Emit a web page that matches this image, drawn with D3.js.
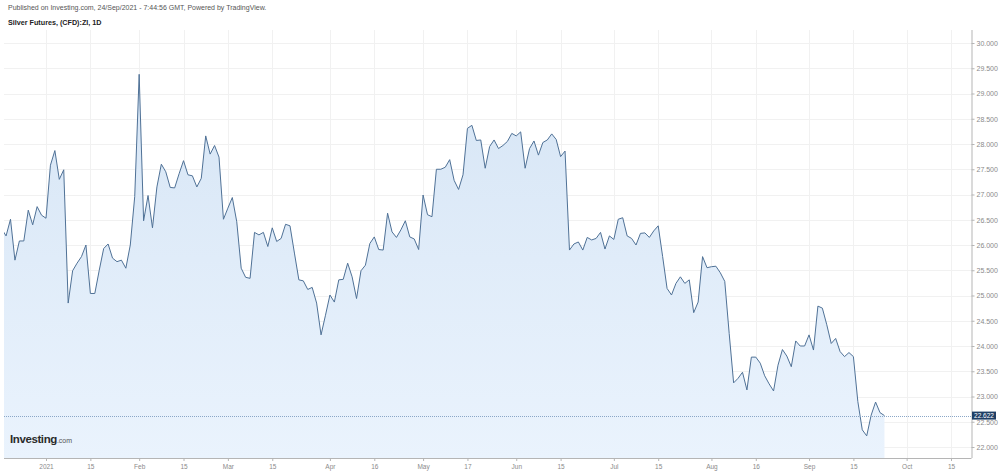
<!DOCTYPE html>
<html>
<head>
<meta charset="utf-8">
<script src="https://cdn.jsdelivr.net/npm/d3@7"></script>
<style>
  html, body { margin: 0; padding: 0; background: #ffffff; }
  svg { display: block; font-family: Arial, "Liberation Sans", sans-serif; }
</style>
</head>
<body>
<svg id="chart" width="1000" height="475"></svg>
<script>
// ---- Data (trading-day index relative to 1 Jan 2021 = 0) ----
const firstDayIndex = -10;
const closeValues = [
  26.32, 26.18, 26.51, 25.70, 26.08, 26.08, 26.69, 26.40, 26.76, 26.59,
  26.53, 27.58, 27.87, 27.30, 27.49, 24.85, 25.49, 25.64, 25.77, 26.00,
  25.04, 25.04, 25.50, 25.93, 26.02, 25.74, 25.67, 25.70, 25.54, 26.00,
  26.96, 29.38, 26.48, 26.98, 26.34, 27.15, 27.60, 27.45, 27.14, 27.13,
  27.41, 27.67, 27.39, 27.37, 27.15, 27.32, 28.16, 27.80, 27.97, 27.74,
  26.51, 26.73, 26.94, 26.46, 25.54, 25.36, 25.34, 26.25, 26.20, 26.25,
  25.97, 26.34, 26.07, 26.13, 26.41, 26.38, 25.84, 25.31, 25.29, 25.12,
  25.16, 24.85, 24.22, 24.61, 25.01, 24.87, 25.31, 25.32, 25.64, 25.37,
  24.94, 25.49, 25.60, 26.03, 26.16, 25.91, 25.90, 26.63, 26.26, 26.15,
  26.30, 26.48, 26.16, 26.12, 25.91, 26.99, 26.60, 26.56, 27.50, 27.50,
  27.54, 27.69, 27.28, 27.10, 27.39, 28.31, 28.37, 28.07, 28.08, 27.52,
  27.95, 28.08, 27.91, 27.97, 28.05, 28.21, 28.16, 28.24, 27.52, 27.91,
  28.06, 27.78, 28.03, 28.08, 28.20, 28.09, 27.75, 27.86, 25.90, 26.02,
  26.06, 25.90, 26.15, 26.10, 26.13, 26.25, 25.92, 26.18, 26.11, 26.51,
  26.54, 26.18, 26.13, 26.00, 26.23, 26.24, 26.15, 26.28, 26.38, 25.77,
  25.14, 25.01, 25.24, 25.37, 25.24, 25.31, 24.66, 24.87, 25.77, 25.55,
  25.57, 25.58, 25.45, 25.28, 24.25, 23.27, 23.36, 23.48, 23.13, 23.78,
  23.78, 23.66, 23.41, 23.25, 23.11, 23.62, 23.93, 23.80, 23.59, 24.10,
  24.00, 24.00, 24.22, 23.92, 24.79, 24.75, 24.42, 24.05, 24.15, 23.89,
  23.79, 23.87, 23.79, 22.90, 22.34, 22.22, 22.63, 22.89, 22.68, 22.622
];
const lastPrice = 22.622;

const xTickIndex  = [0, 10, 21, 31, 41, 51, 64, 74, 85, 95, 106, 116, 128, 138, 150, 160, 172, 182, 194, 204];
const xTickLabels = ["2021","15","Feb","15","Mar","15","Apr","16","May","17","Jun","15","Jul","15","Aug","16","Sep","15","Oct","15"];
const yTickValues = [22, 22.5, 23, 23.5, 24, 24.5, 25, 25.5, 26, 26.5, 27, 27.5, 28, 28.5, 29, 29.5, 30];

const headerLine1 = "Published on Investing.com, 24/Sep/2021 - 7:44:56 GMT, Powered by TradingView.";
const headerLine2 = "Silver Futures, (CFD):ZI, 1D";

// ---- Layout ----
const plot = { left: 4, right: 971.5, top: 30, bottom: 458 };

const x = d3.scaleLinear().domain([0, 204]).range([46, 951]);
const y = d3.scaleLinear().domain([22, 30]).range([447, 43]);

const data = closeValues.map((v, i) => ({ i: firstDayIndex + i, v }));

const svg = d3.select("#chart");

// defs: gradient + clip
const defs = svg.append("defs");
const grad = defs.append("linearGradient")
  .attr("id", "fillGrad").attr("gradientUnits", "userSpaceOnUse")
  .attr("x1", 0).attr("x2", 0).attr("y1", 60).attr("y2", plot.bottom);
grad.append("stop").attr("offset", "0%").attr("stop-color", "#d6e5f5");
grad.append("stop").attr("offset", "100%").attr("stop-color", "#eaf3fd");
defs.append("clipPath").attr("id", "plotClip").append("rect")
  .attr("x", plot.left).attr("y", plot.top)
  .attr("width", plot.right - plot.left).attr("height", plot.bottom - plot.top);

// Header
svg.append("text").attr("x", 8).attr("y", 10)
  .attr("font-size", 7).attr("fill", "#555").text(headerLine1);
svg.append("text").attr("x", 8).attr("y", 25)
  .attr("font-size", 7.2).attr("font-weight", "bold").attr("fill", "#222").text(headerLine2);

// Grid
const grid = svg.append("g");
grid.selectAll("line.h").data(yTickValues).join("line")
  .attr("x1", plot.left).attr("x2", plot.right)
  .attr("y1", d => Math.round(y(d)) + 0.5).attr("y2", d => Math.round(y(d)) + 0.5)
  .attr("stroke", "#f1f1f1").attr("stroke-width", 1);
grid.selectAll("line.v").data(xTickIndex).join("line")
  .attr("x1", d => Math.round(x(d)) + 0.5).attr("x2", d => Math.round(x(d)) + 0.5)
  .attr("y1", plot.top).attr("y2", plot.bottom)
  .attr("stroke", "#f1f1f1").attr("stroke-width", 1);

// Area + line
const gPlot = svg.append("g").attr("clip-path", "url(#plotClip)");
const area = d3.area().x(d => x(d.i)).y0(plot.bottom).y1(d => y(d.v));
const line = d3.line().x(d => x(d.i)).y(d => y(d.v));
gPlot.append("path").datum(data).attr("d", area).attr("fill", "url(#fillGrad)");
gPlot.append("path").datum(data).attr("d", line)
  .attr("fill", "none").attr("stroke", "#4f7196").attr("stroke-width", 1)
  .attr("stroke-linejoin", "round");

// Last price line
svg.append("line")
  .attr("x1", plot.left).attr("x2", plot.right)
  .attr("y1", Math.round(y(lastPrice)) + 0.5).attr("y2", Math.round(y(lastPrice)) + 0.5)
  .attr("stroke", "#8ba7c7").attr("stroke-width", 1).attr("stroke-dasharray", "1,1");

// Logo
const logo = svg.append("text").attr("x", 10).attr("y", 443).attr("fill", "#2b2b2b");
logo.append("tspan").attr("font-size", 11.5).attr("font-weight", "bold")
  .attr("letter-spacing", -0.4).text("Investing");
logo.append("tspan").attr("font-size", 7).attr("fill", "#555").text(".com");

// Y axis
const yAxis = d3.axisRight(y).tickValues(yTickValues)
  .tickFormat(d3.format(".3f")).tickSize(3).tickPadding(2);
const gy = svg.append("g").attr("transform", `translate(${plot.right},0)`).call(yAxis);
gy.select(".domain").attr("d", `M0.5,${plot.top}V${plot.bottom}`).attr("stroke", "#b5b5b5");
gy.selectAll(".tick line").attr("stroke", "#b5b5b5");
gy.selectAll(".tick text").attr("font-size", 7).attr("fill", "#8a8a8a")
  .attr("font-family", "Arial, 'Liberation Sans', sans-serif");

// X axis
const xAxis = d3.axisBottom(x).tickValues(xTickIndex)
  .tickFormat((d, i) => xTickLabels[i]).tickSize(3).tickPadding(3);
const gx = svg.append("g").attr("transform", `translate(0,${plot.bottom})`).call(xAxis);
gx.select(".domain").attr("d", `M${plot.left},0.5H${plot.right}`).attr("stroke", "#b5b5b5");
gx.selectAll(".tick line").attr("stroke", "#b5b5b5");
gx.selectAll(".tick text").attr("font-size", 6.5).attr("fill", "#8a8a8a")
  .attr("font-family", "Arial, 'Liberation Sans', sans-serif");

// Price label
const py = y(lastPrice);
svg.append("rect").attr("x", plot.right + 0.5).attr("y", py - 4)
  .attr("width", 24).attr("height", 8).attr("fill", "#1f3f66");
svg.append("text").attr("x", plot.right + 12.5).attr("y", py + 2.4)
  .attr("text-anchor", "middle").attr("font-size", 6.5).attr("fill", "#ffffff")
  .text(d3.format(".3f")(lastPrice));
</script>
</body>
</html>
